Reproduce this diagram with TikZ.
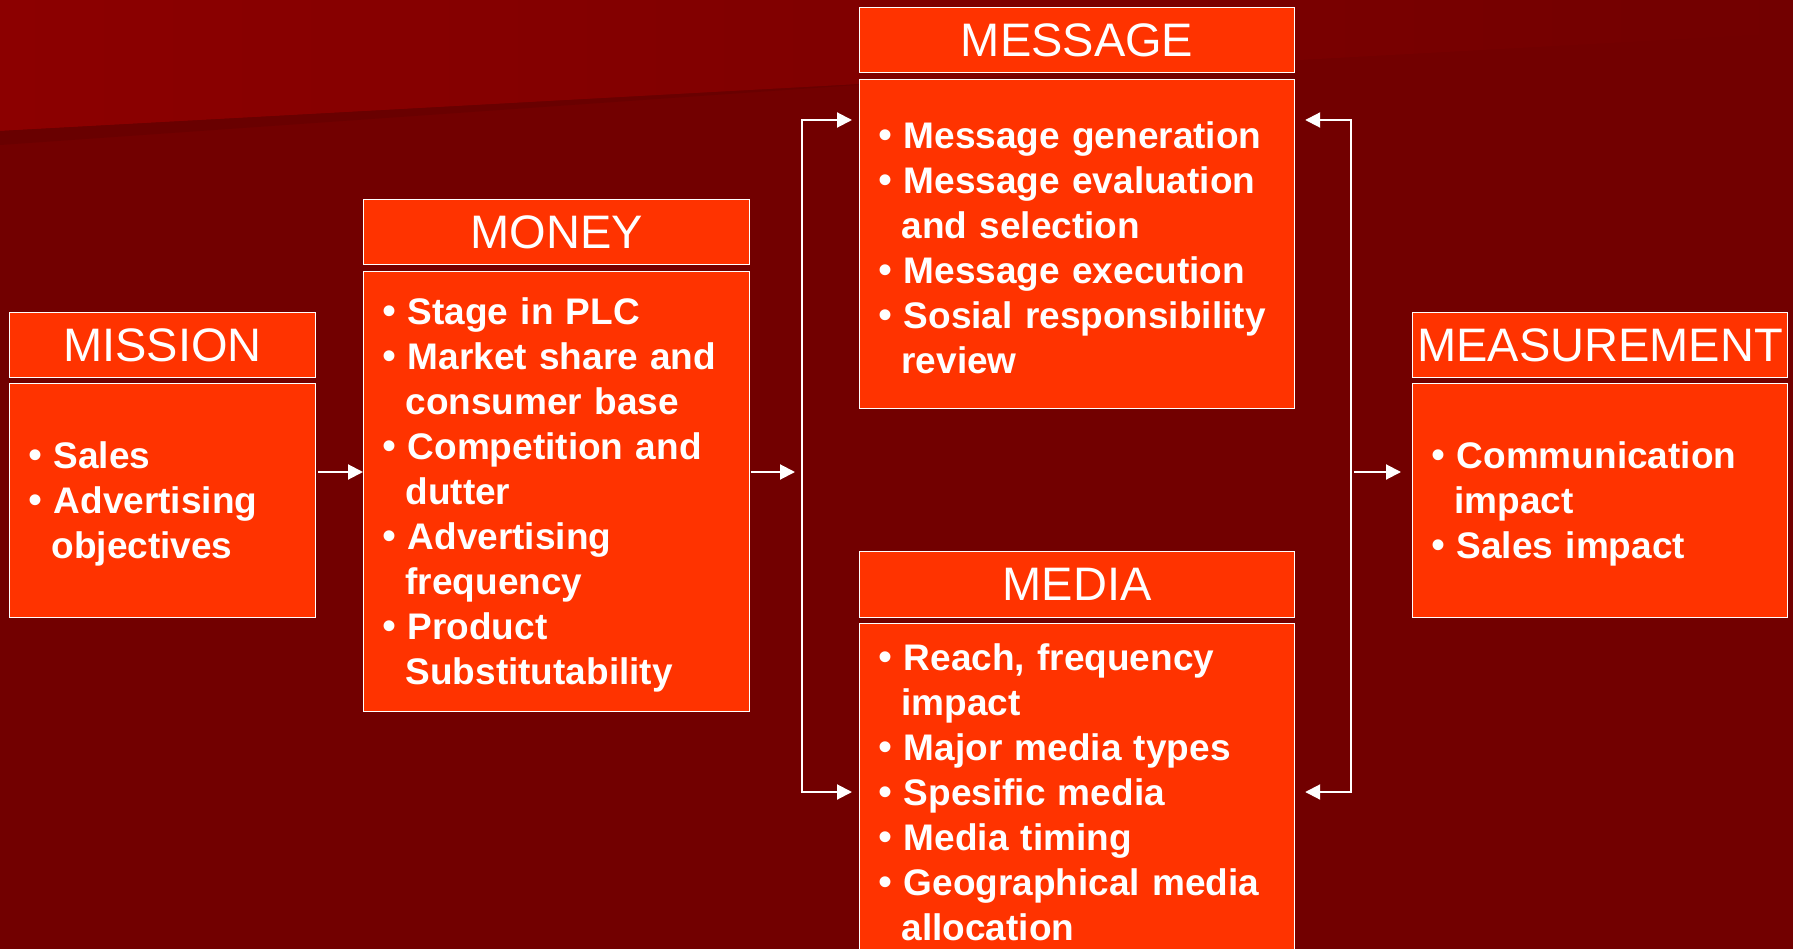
\documentclass[tikz,border=0pt]{standalone}
\usepackage{fontspec}
\setmainfont{Liberation Sans}
\usetikzlibrary{arrows.meta}

\definecolor{sfondo}{HTML}{720000}
\definecolor{sfondochiaro}{HTML}{8C0000}
\definecolor{ombra}{HTML}{690000}
\definecolor{riquadro}{HTML}{FF3300}

\newcommand{\bul}{{\mdseries\fontsize{40}{45}\selectfont\textbullet}\hspace{0.3em}}
\newcommand{\rientro}{\hspace*{0.62em}}

\tikzset{
    titolo/.style={draw=white, line width=1.2pt, fill=riquadro, text=white,
        anchor=north west, inner sep=0pt, font=\fontsize{47}{56}\selectfont},
    corpo/.style={draw=white, line width=1.2pt, fill=riquadro, text=white,
        anchor=north west, inner xsep=19pt, inner ysep=0pt, align=left,
        font=\fontsize{37}{45}\selectfont\bfseries,
        execute at begin node={\rule{0pt}{34pt}}},
    freccia/.style={draw=white, line width=2pt, -{Triangle[length=15pt,width=15pt]}},
    doppia/.style={draw=white, line width=2pt,
        {Triangle[length=15pt,width=15pt]}-{Triangle[length=15pt,width=15pt]}}
}

\begin{document}
\begin{tikzpicture}[x=1pt,y=-1pt]
    \useasboundingbox (0,0) rectangle (1793,949);
    \clip (0,0) rectangle (1793,949);

    % Sfondo con banda chiara in alto
    \fill[sfondo] (0,0) rectangle (1793,949);
    \shade[left color=sfondochiaro, right color=sfondo] (0,0) -- (1793,0) -- (1793,33) -- (0,131) -- cycle;
    \fill[ombra] (0,131) -- (900,82) -- (0,145) -- cycle;

    % Mission
    \node[titolo, minimum width=306pt, minimum height=65pt] (missiontitle) at (9,312) {MISSION};
    \node[corpo, text width=268pt, minimum height=234pt] (mission) at (9,383)
        {\bul Sales\\ \bul Advertising\\ \rientro objectives};

    % Money
    \node[titolo, minimum width=386pt, minimum height=65pt] (moneytitle) at (363,199) {MONEY};
    \node[corpo, text width=348pt, minimum height=440pt] (money) at (363,271)
        {\bul Stage in PLC\\ \bul Market share and\\ \rientro consumer base\\
         \bul Competition and\\ \rientro dutter\\ \bul Advertising\\ \rientro frequency\\
         \bul Product\\ \rientro Substitutability};

    % Message
    \node[titolo, minimum width=435pt, minimum height=65pt] (messagetitle) at (859,7) {MESSAGE};
    \node[corpo, text width=397pt, minimum height=329pt] (message) at (859,79)
        {\bul Message generation\\ \bul Message evaluation\\ \rientro and selection\\
         \bul Message execution\\ \bul Sosial responsibility\\ \rientro review};

    % Media (esce dal bordo inferiore)
    \node[titolo, minimum width=435pt, minimum height=66pt] (mediatitle) at (859,551) {MEDIA};
    \node[corpo, text width=397pt, minimum height=330pt] (media) at (859,623)
        {\bul Reach, frequency\\ \rientro impact\\ \bul Major media types\\
         \bul Spesific media\\ \bul Media timing\\ \bul Geographical media\\ \rientro allocation};

    % Measurement
    \node[titolo, minimum width=375pt, minimum height=65pt] (measuretitle) at (1412,312) {MEASUREMENT};
    \node[corpo, text width=337pt, minimum height=234pt] (measure) at (1412,383)
        {\bul Communication\\ \rientro impact\\ \bul Sales impact};

    % Punti di diramazione
    \coordinate (asse) at (0,472);
    \coordinate (sx) at (802,472);
    \coordinate (sxalto) at (802,120);
    \coordinate (sxbasso) at (802,792);
    \coordinate (dx) at (1351,472);
    \coordinate (dxalto) at (1351,120);
    \coordinate (dxbasso) at (1351,792);

    % Frecce
    \draw[freccia] ([xshift=2pt]mission.east |- asse) -- (money.west |- asse);
    \draw[freccia] ([xshift=1pt]money.east |- sx) -- ([xshift=-7pt]sx);
    \draw[doppia] ([xshift=-7pt]message.west |- sxalto) -- (sxalto) -- (sxbasso) -- ([xshift=-7pt]media.west |- sxbasso);
    \draw[doppia] ([xshift=10pt]message.east |- dxalto) -- (dxalto) -- (dxbasso) -- ([xshift=10pt]media.east |- dxbasso);
    \draw[freccia] ([xshift=3pt]dx) -- ([xshift=-11pt]measure.west |- dx);
\end{tikzpicture}
\end{document}
